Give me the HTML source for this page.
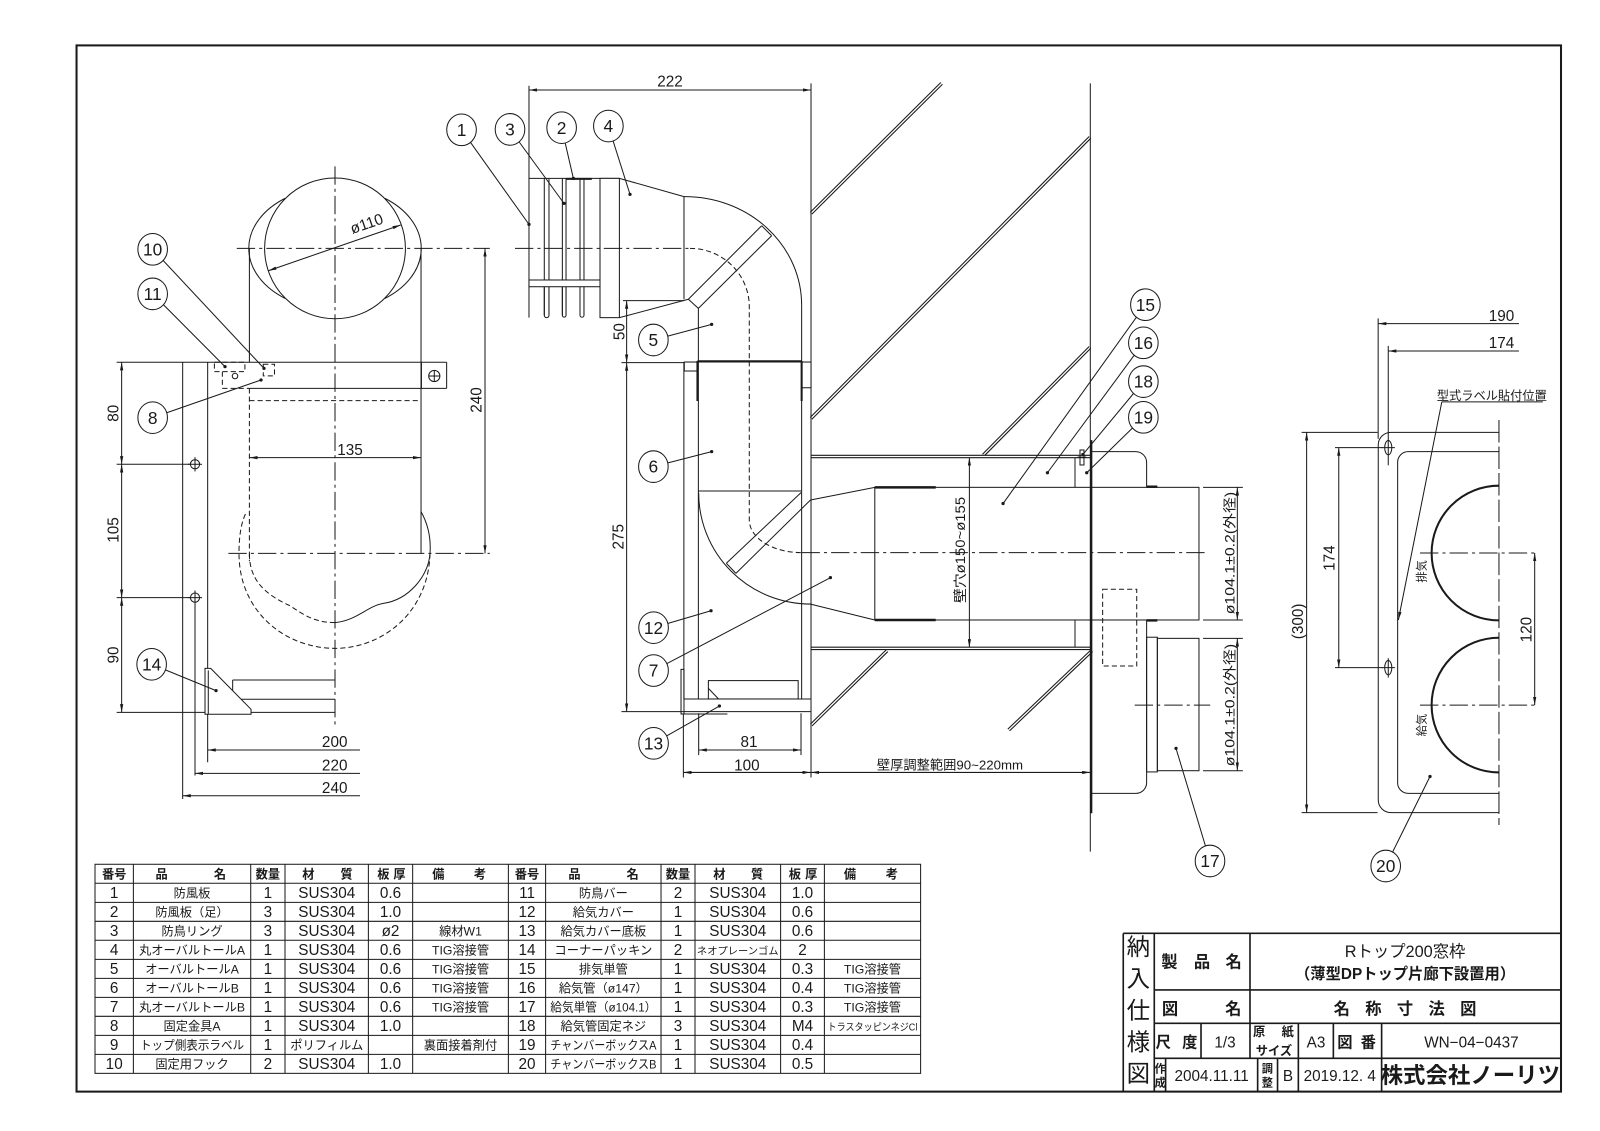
<!DOCTYPE html>
<html><head><meta charset="utf-8"><style>
html,body{margin:0;padding:0;background:#fff}
svg{display:block}
.l{stroke:#1a1a1a;stroke-width:1;fill:none}
.t{stroke:#1a1a1a;stroke-width:2;fill:none}
.d{stroke-dasharray:5 3}
.c{stroke-dasharray:18 4 3 4}
.h1{stroke:#1a1a1a;stroke-width:3.4;fill:none}
.h2{stroke:#fff;stroke-width:1.3;fill:none}
text{font-family:"Liberation Sans","Noto Sans CJK JP",sans-serif;fill:#1a1a1a}
.n{font-size:15px;text-anchor:middle}
.j{font-size:12px;text-anchor:middle}
.lab{font-size:17px;text-anchor:middle}
</style></head><body>
<svg width="1600" height="1131" viewBox="0 0 1568 1108.4" xmlns="http://www.w3.org/2000/svg">
<defs>
<marker id="a" viewBox="0 0 10 4" refX="10" refY="2" markerWidth="8" markerHeight="3.2" orient="auto-start-reverse" markerUnits="userSpaceOnUse"><path d="M0,0 L10,2 L0,4 z" fill="#1a1a1a"/></marker>
</defs>
<rect x="0" y="0" width="1568" height="1108.4" fill="#fff"/>
<!-- border -->
<rect x="75" y="44.5" width="1454.8" height="1025.3" fill="none" stroke="#1a1a1a" stroke-width="2"/>

<!-- ================= LEFT VIEW ================= -->
<g class="l">
<line class="l c" x1="328.3" y1="163" x2="328.3" y2="710.5"/>
<line class="l c" x1="232" y1="243.4" x2="480" y2="243.4"/>
<line class="l c" x1="223.8" y1="542.3" x2="480" y2="542.3"/>
<circle cx="328.3" cy="243.4" r="69"/>
<path d="M279.3 194.4 A84 60 0 0 0 279.3 292.4"/>
<path d="M377.3 194.4 A84 60 0 0 1 377.3 292.4"/>
<line x1="244.4" y1="243.4" x2="244.4" y2="355"/>
<line x1="412.6" y1="243.4" x2="412.6" y2="542.3"/>
<!-- diameter -->
<line x1="263" y1="265.3" x2="392.7" y2="220.5" marker-start="url(#a)" marker-end="url(#a)"/>
<!-- band -->
<line x1="114.3" y1="355" x2="437.7" y2="355"/>
<line x1="244.4" y1="380.6" x2="437.7" y2="380.6"/>
<line class="l d" x1="217.9" y1="380.6" x2="244.4" y2="380.6"/>
<line class="l d" x1="217.9" y1="364.2" x2="217.9" y2="380.6"/>
<rect class="l d" x="210.1" y="355" width="29.9" height="9.2"/>
<circle cx="230.3" cy="368.5" r="2.7"/>
<rect class="l d" x="258" y="357" width="11" height="11.4"/>
<line x1="413" y1="355" x2="413" y2="380.6"/>
<line x1="437.7" y1="355" x2="437.7" y2="380.6"/>
<circle cx="425.6" cy="368.5" r="5.5"/>
<line x1="420.1" y1="368.5" x2="431.1" y2="368.5"/>
<line x1="425.6" y1="363" x2="425.6" y2="374"/>
<line class="l d" x1="244.4" y1="392.6" x2="412.6" y2="392.6"/>
<line class="l d" x1="244.4" y1="380.6" x2="244.4" y2="550"/>
<!-- plate -->
<line x1="179" y1="355" x2="179" y2="783"/>
<line x1="203.5" y1="355" x2="203.5" y2="747"/>
<line x1="191.1" y1="590" x2="191.1" y2="760"/>
<circle cx="191.1" cy="455" r="4.5"/>
<line x1="184" y1="455" x2="198" y2="455"/><line x1="191.1" y1="448" x2="191.1" y2="462"/>
<circle cx="191.1" cy="585.7" r="4.5"/>
<line x1="184" y1="585.7" x2="198" y2="585.7"/><line x1="191.1" y1="578.7" x2="191.1" y2="592.7"/>
<line x1="114.3" y1="455" x2="186" y2="455"/>
<line x1="114.3" y1="585.7" x2="186" y2="585.7"/>
<line x1="114.3" y1="698.1" x2="328.3" y2="698.1"/>
<line x1="119.2" y1="355" x2="119.2" y2="455" marker-start="url(#a)" marker-end="url(#a)"/>
<line x1="119.2" y1="455" x2="119.2" y2="585.7" marker-start="url(#a)" marker-end="url(#a)"/>
<line x1="119.2" y1="585.7" x2="119.2" y2="698.1" marker-start="url(#a)" marker-end="url(#a)"/>
<!-- bracket 14 -->
<path d="M200.9 655 L206.5 655 L246 695.1 L246 700 L200.9 700 Z" fill="#fff"/>
<line x1="204.1" y1="657" x2="204.1" y2="700"/>
<line x1="228" y1="666.4" x2="328.3" y2="666.4"/>
<line x1="228" y1="666.4" x2="228" y2="676.8"/>
<line x1="236.3" y1="685.3" x2="328.3" y2="685.3"/>
<!-- lower elbow outline -->
<path d="M412.6 501.4 Q423 520 421.4 542.3 C420 565 400 588 375.7 591.3 C360 594 350 608 328.3 610.2"/>
<path class="l d" d="M421.4 542.3 C420 600 375 635.4 328.3 635.4 C280 635.4 234.2 600 234.2 542.3 Q234.2 515 241.7 501.4"/>
<path class="l d" d="M328.3 610.2 C305 610 295 600 282.6 592.9 C255 580 244.4 565 244.4 542"/>
<!-- dims -->
<line x1="244.4" y1="448.5" x2="412.6" y2="448.5" marker-start="url(#a)" marker-end="url(#a)"/>
<line x1="475.3" y1="243.4" x2="475.3" y2="542.3" marker-start="url(#a)" marker-end="url(#a)"/>
<line x1="203.5" y1="735" x2="352.8" y2="735" marker-start="url(#a)"/>
<line x1="191.1" y1="757.9" x2="352.8" y2="757.9" marker-start="url(#a)"/>
<line x1="179" y1="779.8" x2="352.8" y2="779.8" marker-start="url(#a)"/>
</g>
<text class="n" transform="translate(361 224) rotate(-19)">ø110</text>
<text class="n" x="343" y="446">135</text>
<text class="n" transform="translate(472 392) rotate(-90)">240</text>
<text class="n" transform="translate(116 405) rotate(-90)">80</text>
<text class="n" transform="translate(116 519.4) rotate(-90)">105</text>
<text class="n" transform="translate(116 641.9) rotate(-90)">90</text>
<text class="n" x="328" y="732">200</text>
<text class="n" x="328" y="755">220</text>
<text class="n" x="328" y="777">240</text>

<!-- ================= CENTER VIEW ================= -->
<!-- hatching -->
<g>
<line class="h1" x1="794.8" y1="209" x2="922.8" y2="81.7"/><line class="h2" x1="794.8" y1="209" x2="922.8" y2="81.7"/>
<line class="h1" x1="794.8" y1="410" x2="1068.2" y2="134.6"/><line class="h2" x1="794.8" y1="410" x2="1068.2" y2="134.6"/>
<line class="h1" x1="963.7" y1="446" x2="1068.2" y2="340.4"/><line class="h2" x1="963.7" y1="446" x2="1068.2" y2="340.4"/>
<line class="h1" x1="795" y1="710.5" x2="869.3" y2="637.7"/><line class="h2" x1="795" y1="710.5" x2="869.3" y2="637.7"/>
<line class="h1" x1="988.5" y1="715.4" x2="1070" y2="637.7"/><line class="h2" x1="988.5" y1="715.4" x2="1070" y2="637.7"/>
<line class="h1" x1="794.8" y1="447.4" x2="1070" y2="447.4"/><line class="h2" x1="794.8" y1="447.4" x2="1070" y2="447.4"/>
<line class="h1" x1="794.8" y1="635.4" x2="1070" y2="635.4"/><line class="h2" x1="794.8" y1="635.4" x2="1070" y2="635.4"/>
</g>
<g class="l">
<!-- walls -->
<line x1="794.8" y1="81.7" x2="794.8" y2="762"/>
<line x1="1068.5" y1="81.7" x2="1068.5" y2="834.6"/>
<line x1="1069.5" y1="431.3" x2="1069.5" y2="797" stroke-width="2"/>
<!-- dim 222 -->
<line x1="518.4" y1="84" x2="518.4" y2="311.3"/>
<line x1="518.4" y1="88.2" x2="794.8" y2="88.2" marker-start="url(#a)" marker-end="url(#a)"/>
<!-- piece 1 / rings -->
<line x1="518.4" y1="174.8" x2="607" y2="174.8"/>
<line x1="555" y1="175.3" x2="580" y2="175.3" stroke-width="2"/>
<path d="M533.4 174.8 V309 A2.3 2.3 0 0 0 538 309 V174.8"/>
<path d="M551.1 174.8 V309 A1.8 1.8 0 0 0 554.7 309 V174.8"/>
<path d="M568.4 174.8 V309 A1.95 1.95 0 0 0 572.3 309 V174.8"/>
<rect x="518.4" y="274.4" width="81.6" height="6.6" fill="#fff"/>
<line x1="533.4" y1="281" x2="533.4" y2="309"/><line x1="538" y1="281" x2="538" y2="309"/>
<line x1="551.1" y1="281" x2="551.1" y2="309"/><line x1="554.7" y1="281" x2="554.7" y2="309"/>
<line x1="568.4" y1="281" x2="568.4" y2="309"/><line x1="572.3" y1="281" x2="572.3" y2="309"/>
<rect x="588" y="174.8" width="19" height="136.5" fill="#fff"/>
<!-- taper 4 -->
<line x1="607" y1="174.8" x2="670.3" y2="192.7"/>
<line x1="607" y1="311.3" x2="674.6" y2="293.3"/>
<!-- elbow 5 -->
<line x1="670.3" y1="192.7" x2="670.3" y2="293.3"/>
<path d="M670.3 192.7 A114.4 106.3 0 0 1 785.6 299"/>
<line x1="785.6" y1="299" x2="785.6" y2="685"/>
<line x1="674.6" y1="293.3" x2="746.4" y2="221.2"/>
<line x1="684.4" y1="302.2" x2="756.2" y2="231"/>
<line x1="746.4" y1="221.2" x2="756.2" y2="231"/>
<line x1="674.6" y1="293.3" x2="684.4" y2="302.2"/>
<line x1="684.4" y1="302.2" x2="684.4" y2="685"/>
<!-- center line -->
<line class="l c" x1="504.7" y1="243.4" x2="676.2" y2="243.4"/>
<path class="l d" d="M676.2 243.4 A58.1 57.1 0 0 1 734.3 300.5 L734.3 509.6 A51.2 32 0 0 0 785.5 541.6"/>
<line class="l c" x1="785.5" y1="541.6" x2="1183" y2="541.6"/>
<!-- dim 50 / 275 -->
<line x1="610.5" y1="294.6" x2="670.3" y2="294.6"/>
<line x1="609" y1="355.4" x2="670.6" y2="355.4"/>
<line x1="614.1" y1="294.6" x2="614.1" y2="355.4" marker-start="url(#a)" marker-end="url(#a)"/>
<line x1="614.1" y1="355.4" x2="614.1" y2="697.4" marker-start="url(#a)" marker-end="url(#a)"/>
<line x1="609" y1="697.4" x2="670" y2="697.4"/>
<!-- cover 6 -->
<line x1="670.6" y1="354.8" x2="794.8" y2="354.8"/>
<rect x="670.6" y="354.8" width="12.6" height="8.8"/>
<line x1="683.5" y1="353.8" x2="683.5" y2="393" stroke-width="2"/>
<line x1="683.5" y1="353.8" x2="785.6" y2="353.8" stroke-width="1.6"/>
<rect x="785.6" y="354.8" width="9.2" height="25.2"/>
<line x1="785.6" y1="353.8" x2="785.6" y2="393" stroke-width="2"/>
<line x1="670.2" y1="354.8" x2="670.2" y2="685"/>
<!-- elbow 7 -->
<line x1="684.4" y1="481.2" x2="785.6" y2="481.2"/>
<path d="M684.7 483 A109.6 109 0 0 0 794.3 592"/>
<line x1="711.8" y1="552" x2="785" y2="482.8"/>
<line x1="721.2" y1="561.9" x2="794.3" y2="490"/>
<line x1="711.8" y1="552" x2="721.2" y2="561.9"/>
<line x1="794.3" y1="490" x2="857.3" y2="477.6"/>
<line x1="794.3" y1="592" x2="857.3" y2="607.6"/>
<!-- pipe 15 -->
<rect x="857.3" y="477.6" width="317.7" height="130" fill="none"/>
<line x1="857.3" y1="477.6" x2="917" y2="477.6" stroke-width="2.4"/>
<line x1="857.3" y1="607.6" x2="917" y2="607.6" stroke-width="2.4"/>
<line x1="1053.5" y1="448.4" x2="1053.5" y2="477.6"/>
<line x1="1053.5" y1="607.6" x2="1053.5" y2="634.4"/>
<rect x="1058.4" y="441" width="3.9" height="14.7"/>
<line x1="1056" y1="448" x2="1064.5" y2="448"/>
<!-- chamber -->
<path d="M1070 442.6 H1113 A10.7 10.7 0 0 1 1123.7 453.3 V477.6"/>
<path d="M1123.7 607.6 V767 A10.5 10.5 0 0 1 1113.2 777.5 H1070"/>
<line x1="1123.7" y1="477" x2="1134.2" y2="477" stroke-width="2.4"/>
<line x1="1123.7" y1="608" x2="1134.2" y2="608" stroke-width="2.4"/>
<rect x="1123.7" y="624.5" width="10.5" height="132"/>
<rect x="1134.2" y="625.6" width="40.8" height="129.7"/>
<rect class="l d" x="1080.6" y="577.5" width="33.4" height="75.2"/>
<line class="l c" x1="1112" y1="691" x2="1186" y2="691"/>
<!-- dims ø104.1 -->
<line x1="1179" y1="477.6" x2="1218" y2="477.6"/>
<line x1="1179" y1="607.6" x2="1218" y2="607.6"/>
<line x1="1179" y1="625.6" x2="1218" y2="625.6"/>
<line x1="1179" y1="755.3" x2="1218" y2="755.3"/>
<line x1="1212.6" y1="477.6" x2="1212.6" y2="607.6" marker-start="url(#a)" marker-end="url(#a)"/>
<line x1="1212.6" y1="625.6" x2="1212.6" y2="755.3" marker-start="url(#a)" marker-end="url(#a)"/>
<line x1="950" y1="448.4" x2="950" y2="634.4" marker-start="url(#a)" marker-end="url(#a)"/>
<!-- base 13 -->
<line x1="670" y1="685" x2="794.3" y2="685"/>
<line x1="670" y1="697.4" x2="794.3" y2="697.4"/>
<rect x="694.2" y="667" width="88" height="18"/>
<line x1="694.2" y1="674.6" x2="704.2" y2="685"/>
<rect x="667.4" y="656" width="2.9" height="43.7"/>
<line x1="667.4" y1="699.7" x2="712.9" y2="699.7"/>
<!-- bottom dims -->
<line x1="684.7" y1="699" x2="684.7" y2="740"/>
<line x1="785" y1="699" x2="785" y2="740"/>
<line x1="684.7" y1="735" x2="785" y2="735" marker-start="url(#a)" marker-end="url(#a)"/>
<line x1="669.7" y1="700" x2="669.7" y2="762"/>
<line x1="669.7" y1="757" x2="794.3" y2="757" marker-start="url(#a)" marker-end="url(#a)"/>
<line x1="794.8" y1="757" x2="1068.5" y2="757" marker-start="url(#a)" marker-end="url(#a)"/>
</g>
<text class="n" x="656.6" y="85">222</text>
<text class="n" transform="translate(612 325) rotate(-90)">50</text>
<text class="n" transform="translate(611 526) rotate(-90)">275</text>
<text class="n" x="734" y="732">81</text>
<text class="n" x="732" y="755">100</text>
<text x="931" y="754" style="font-size:13px;text-anchor:middle">壁厚調整範囲90~220mm</text>
<text transform="translate(945.5 539) rotate(-90)" style="font-size:13.5px;text-anchor:middle" textLength="104" lengthAdjust="spacingAndGlyphs">壁穴ø150~ø155</text>
<text transform="translate(1210 542) rotate(-90)" style="font-size:13.5px;text-anchor:middle" textLength="120" lengthAdjust="spacingAndGlyphs">ø104.1±0.2(外径)</text>
<text transform="translate(1210 691) rotate(-90)" style="font-size:13.5px;text-anchor:middle" textLength="120" lengthAdjust="spacingAndGlyphs">ø104.1±0.2(外径)</text>

<!-- ================= RIGHT VIEW ================= -->
<g class="l">
<line x1="1350.6" y1="312" x2="1350.6" y2="430"/>
<line x1="1360.5" y1="339" x2="1360.5" y2="456"/>
<line x1="1350.6" y1="317.2" x2="1488.6" y2="317.2" marker-start="url(#a)"/>
<line x1="1360.5" y1="344" x2="1488.6" y2="344" marker-start="url(#a)"/>
<path d="M1469 423.7 H1363 A12.4 12.4 0 0 0 1350.7 436 V784 A12.4 12.4 0 0 0 1363 796.4 H1469"/>
<path d="M1469 442.6 H1380 A10.3 10.3 0 0 0 1369.7 452.9 V767.2 A10.3 10.3 0 0 0 1380 777.5 H1469"/>
<line x1="1275.6" y1="423.7" x2="1350" y2="423.7"/>
<line x1="1275.6" y1="796.4" x2="1350" y2="796.4"/>
<line x1="1280.5" y1="423.7" x2="1280.5" y2="796.4" marker-start="url(#a)" marker-end="url(#a)"/>
<line x1="1308.3" y1="438.7" x2="1355" y2="438.7"/>
<line x1="1308.3" y1="654.3" x2="1355" y2="654.3"/>
<line x1="1312" y1="438.7" x2="1312" y2="654.3" marker-start="url(#a)" marker-end="url(#a)"/>
<ellipse cx="1360.5" cy="438.7" rx="3.5" ry="7"/>
<line x1="1354" y1="438.7" x2="1367" y2="438.7"/>
<ellipse cx="1360.5" cy="654.3" rx="3.5" ry="7"/>
<line x1="1354" y1="654.3" x2="1367" y2="654.3"/>
<line x1="1360.5" y1="645" x2="1360.5" y2="664"/>
<line x1="1469" y1="411.6" x2="1469" y2="808.5" stroke-dasharray="22 4"/>
<path d="M1469 476 A66 66 0 0 0 1469 608" stroke-width="2"/>
<path d="M1469 625 A66 66 0 0 0 1469 757" stroke-width="2"/>
<line class="l c" x1="1391.6" y1="542" x2="1507" y2="542"/>
<line class="l c" x1="1391.6" y1="691" x2="1507" y2="691"/>
<line x1="1504" y1="542" x2="1504" y2="691" marker-start="url(#a)" marker-end="url(#a)"/>
<line x1="1413" y1="393.8" x2="1512" y2="393.8"/>
<line x1="1413" y1="393.8" x2="1370.4" y2="607.6" marker-end="url(#a)"/>
</g>
<text class="n" x="1471.5" y="314.5">190</text>
<text class="n" x="1471.5" y="341">174</text>
<text class="n" transform="translate(1277 609) rotate(-90)">(300)</text>
<text class="n" transform="translate(1308 547) rotate(-90)">174</text>
<text class="n" transform="translate(1501 617) rotate(-90)">120</text>
<text x="1462" y="392" style="font-size:12px;text-anchor:middle">型式ラベル貼付位置</text>
<text transform="translate(1397 560) rotate(-90)" style="font-size:11px;text-anchor:middle">排気</text>
<text transform="translate(1397 710.5) rotate(-90)" style="font-size:11px;text-anchor:middle">給気</text>

<!-- ================= LEADERS & LABELS ================= -->
<g class="l">
<line x1="452.3" y1="127.2" x2="518.4" y2="219.9"/>
<line x1="499.8" y1="126.8" x2="552.7" y2="199.3"/>
<line x1="550.4" y1="125.1" x2="561.9" y2="174.8"/>
<line x1="596.2" y1="123.5" x2="617.4" y2="190.5"/>
<line x1="640.3" y1="333.2" x2="697.4" y2="317.9"/>
<line x1="640.3" y1="457.3" x2="697.4" y2="442.6"/>
<line x1="640.5" y1="615.1" x2="696.8" y2="598.5"/>
<line x1="640.5" y1="657.2" x2="813.8" y2="566.1"/>
<line x1="640.5" y1="728.5" x2="705" y2="691.9"/>
<line x1="149.6" y1="244.3" x2="258.7" y2="361"/>
<line x1="149.6" y1="288" x2="220.5" y2="359.3"/>
<line x1="149.6" y1="409.3" x2="255.8" y2="372.4"/>
<line x1="148.6" y1="651" x2="211.7" y2="676.8"/>
<line x1="1122.5" y1="298.6" x2="983" y2="493.5"/>
<line x1="1120.5" y1="336" x2="1026.5" y2="463.3"/>
<line x1="1120.5" y1="374" x2="1061.3" y2="445.4"/>
<line x1="1120.5" y1="409" x2="1065" y2="463.3"/>
<line x1="1185.8" y1="843.8" x2="1152.5" y2="733.4"/>
<line x1="1358" y1="848.7" x2="1401.4" y2="761"/>
</g>
<g fill="#1a1a1a">
<circle cx="518.4" cy="219.9" r="1.6"/><circle cx="552.7" cy="199.3" r="1.6"/><circle cx="561.9" cy="174.8" r="1.6"/><circle cx="617.4" cy="190.5" r="1.6"/>
<circle cx="697.4" cy="317.9" r="1.6"/><circle cx="697.4" cy="442.6" r="1.6"/><circle cx="696.8" cy="598.5" r="1.6"/><circle cx="813.8" cy="566.1" r="1.6"/><circle cx="705" cy="691.9" r="1.6"/>
<circle cx="258.7" cy="361" r="1.6"/><circle cx="220.5" cy="359.3" r="1.6"/><circle cx="255.8" cy="372.4" r="1.6"/><circle cx="211.7" cy="676.8" r="1.6"/>
<circle cx="983" cy="493.5" r="1.6"/><circle cx="1026.5" cy="463.3" r="1.6"/><circle cx="1061.3" cy="445.4" r="1.6"/><circle cx="1065" cy="463.3" r="1.6"/>
<circle cx="1152.5" cy="733.4" r="1.6"/><circle cx="1401.4" cy="761" r="1.6"/>
</g>
<g fill="#fff" stroke="#1a1a1a" stroke-width="1">
<ellipse cx="452.3" cy="127.2" rx="14.5" ry="15.5"/>
<ellipse cx="499.8" cy="126.8" rx="14.5" ry="15.5"/>
<ellipse cx="550.4" cy="125.1" rx="14.5" ry="15.5"/>
<ellipse cx="596.2" cy="123.5" rx="14.5" ry="15.5"/>
<ellipse cx="640.3" cy="333.2" rx="14.5" ry="15.5"/>
<ellipse cx="640.3" cy="457.3" rx="14.5" ry="15.5"/>
<ellipse cx="640.5" cy="615.1" rx="14.5" ry="15.5"/>
<ellipse cx="640.5" cy="657.2" rx="14.5" ry="15.5"/>
<ellipse cx="640.5" cy="728.5" rx="14.5" ry="15.5"/>
<ellipse cx="149.6" cy="244.3" rx="14.5" ry="15.5"/>
<ellipse cx="149.6" cy="288" rx="14.5" ry="15.5"/>
<ellipse cx="149.6" cy="409.3" rx="14.5" ry="15.5"/>
<ellipse cx="148.6" cy="651" rx="14.5" ry="15.5"/>
<ellipse cx="1122.5" cy="298.6" rx="14.5" ry="15.5"/>
<ellipse cx="1120.5" cy="336" rx="14.5" ry="15.5"/>
<ellipse cx="1120.5" cy="374" rx="14.5" ry="15.5"/>
<ellipse cx="1120.5" cy="409" rx="14.5" ry="15.5"/>
<ellipse cx="1185.8" cy="843.8" rx="14.5" ry="15.5"/>
<ellipse cx="1358" cy="848.7" rx="14.5" ry="15.5"/>
</g>
<g class="lab">
<text class="lab" x="452.3" y="133.2">1</text>
<text class="lab" x="499.8" y="132.8">3</text>
<text class="lab" x="550.4" y="131.1">2</text>
<text class="lab" x="596.2" y="129.5">4</text>
<text class="lab" x="640.3" y="339.2">5</text>
<text class="lab" x="640.3" y="463.3">6</text>
<text class="lab" x="640.5" y="621.1">12</text>
<text class="lab" x="640.5" y="663.2">7</text>
<text class="lab" x="640.5" y="734.5">13</text>
<text class="lab" x="149.6" y="250.3">10</text>
<text class="lab" x="149.6" y="294">11</text>
<text class="lab" x="149.6" y="415.3">8</text>
<text class="lab" x="148.6" y="657">14</text>
<text class="lab" x="1122.5" y="304.6">15</text>
<text class="lab" x="1120.5" y="342">16</text>
<text class="lab" x="1120.5" y="380">18</text>
<text class="lab" x="1120.5" y="415">19</text>
<text class="lab" x="1185.8" y="849.8">17</text>
<text class="lab" x="1358" y="854.7">20</text>
</g>

<!-- ================= PARTS TABLE ================= -->
<g class="l">
<rect x="93.1" y="847" width="809.1" height="204.9"/>
<line x1="93.1" y1="865.6" x2="902.2" y2="865.6"/>
<line x1="93.1" y1="884.3" x2="902.2" y2="884.3"/>
<line x1="93.1" y1="902.9" x2="902.2" y2="902.9"/>
<line x1="93.1" y1="921.5" x2="902.2" y2="921.5"/>
<line x1="93.1" y1="940.2" x2="902.2" y2="940.2"/>
<line x1="93.1" y1="958.8" x2="902.2" y2="958.8"/>
<line x1="93.1" y1="977.4" x2="902.2" y2="977.4"/>
<line x1="93.1" y1="996" x2="902.2" y2="996"/>
<line x1="93.1" y1="1014.7" x2="902.2" y2="1014.7"/>
<line x1="93.1" y1="1033.3" x2="902.2" y2="1033.3"/>
<line x1="130.7" y1="847" x2="130.7" y2="1051.9"/>
<line x1="245.7" y1="847" x2="245.7" y2="1051.9"/>
<line x1="279.3" y1="847" x2="279.3" y2="1051.9"/>
<line x1="361" y1="847" x2="361" y2="1051.9"/>
<line x1="404.4" y1="847" x2="404.4" y2="1051.9"/>
<line x1="498.2" y1="847" x2="498.2" y2="1051.9"/>
<line x1="534.7" y1="847" x2="534.7" y2="1051.9"/>
<line x1="647.8" y1="847" x2="647.8" y2="1051.9"/>
<line x1="681.1" y1="847" x2="681.1" y2="1051.9"/>
<line x1="765" y1="847" x2="765" y2="1051.9"/>
<line x1="807.9" y1="847" x2="807.9" y2="1051.9"/>
</g>
<g class="j" style="font-weight:bold">
<text class="j" x="111.9" y="861">番号</text><text class="j" x="158.4" y="861">品</text><text class="j" x="215.6" y="861">名</text>
<text class="j" x="262.5" y="861">数量</text><text class="j" x="302.2" y="861">材</text><text class="j" x="339.7" y="861">質</text>
<text class="j" x="375.7" y="861">板</text><text class="j" x="391.5" y="861">厚</text><text class="j" x="429.6" y="861">備</text><text class="j" x="470.4" y="861">考</text>
<text class="j" x="516.5" y="861">番号</text><text class="j" x="563" y="861">品</text><text class="j" x="620" y="861">名</text>
<text class="j" x="664.5" y="861">数量</text><text class="j" x="705" y="861">材</text><text class="j" x="742" y="861">質</text>
<text class="j" x="779" y="861">板</text><text class="j" x="795" y="861">厚</text><text class="j" x="833" y="861">備</text><text class="j" x="874" y="861">考</text>
</g>
<g>
<!-- left table rows -->
<text class="n" x="111.9" y="880">1</text><text class="j" x="188.2" y="879.5">防風板</text><text class="n" x="262.5" y="880">1</text><text class="n" x="320.2" y="880">SUS304</text><text class="n" x="382.7" y="880">0.6</text>
<text class="n" x="111.9" y="898.6">2</text><text class="j" x="188.2" y="898">防風板（足）</text><text class="n" x="262.5" y="898.6">3</text><text class="n" x="320.2" y="898.6">SUS304</text><text class="n" x="382.7" y="898.6">1.0</text>
<text class="n" x="111.9" y="917.2">3</text><text class="j" x="188.2" y="916.7">防鳥リング</text><text class="n" x="262.5" y="917.2">3</text><text class="n" x="320.2" y="917.2">SUS304</text><text class="n" x="382.7" y="917.2">ø2</text><text class="j" x="451.3" y="916.7">線材W1</text>
<text class="n" x="111.9" y="935.8">4</text><text class="j" x="188.2" y="935.3" textLength="104" lengthAdjust="spacingAndGlyphs">丸オーバルトールA</text><text class="n" x="262.5" y="935.8">1</text><text class="n" x="320.2" y="935.8">SUS304</text><text class="n" x="382.7" y="935.8">0.6</text><text class="j" x="451.3" y="935.3">TIG溶接管</text>
<text class="n" x="111.9" y="954.5">5</text><text class="j" x="188.2" y="954">オーバルトールA</text><text class="n" x="262.5" y="954.5">1</text><text class="n" x="320.2" y="954.5">SUS304</text><text class="n" x="382.7" y="954.5">0.6</text><text class="j" x="451.3" y="954">TIG溶接管</text>
<text class="n" x="111.9" y="973.1">6</text><text class="j" x="188.2" y="972.6">オーバルトールB</text><text class="n" x="262.5" y="973.1">1</text><text class="n" x="320.2" y="973.1">SUS304</text><text class="n" x="382.7" y="973.1">0.6</text><text class="j" x="451.3" y="972.6">TIG溶接管</text>
<text class="n" x="111.9" y="991.7">7</text><text class="j" x="188.2" y="991.2" textLength="104" lengthAdjust="spacingAndGlyphs">丸オーバルトールB</text><text class="n" x="262.5" y="991.7">1</text><text class="n" x="320.2" y="991.7">SUS304</text><text class="n" x="382.7" y="991.7">0.6</text><text class="j" x="451.3" y="991.2">TIG溶接管</text>
<text class="n" x="111.9" y="1010.4">8</text><text class="j" x="188.2" y="1009.9">固定金具A</text><text class="n" x="262.5" y="1010.4">1</text><text class="n" x="320.2" y="1010.4">SUS304</text><text class="n" x="382.7" y="1010.4">1.0</text>
<text class="n" x="111.9" y="1029">9</text><text class="j" x="188.2" y="1028.5" textLength="102" lengthAdjust="spacingAndGlyphs">トップ側表示ラベル</text><text class="n" x="262.5" y="1029">1</text><text class="j" x="320.2" y="1028.5">ポリフィルム</text><text class="j" x="451.3" y="1028.5">裏面接着剤付</text>
<text class="n" x="111.9" y="1047.6">10</text><text class="j" x="188.2" y="1047.1">固定用フック</text><text class="n" x="262.5" y="1047.6">2</text><text class="n" x="320.2" y="1047.6">SUS304</text><text class="n" x="382.7" y="1047.6">1.0</text>
<!-- right table rows -->
<text class="n" x="516.5" y="880">11</text><text class="j" x="591.3" y="879.5">防鳥バー</text><text class="n" x="664.5" y="880">2</text><text class="n" x="723" y="880">SUS304</text><text class="n" x="786.5" y="880">1.0</text>
<text class="n" x="516.5" y="898.6">12</text><text class="j" x="591.3" y="898">給気カバー</text><text class="n" x="664.5" y="898.6">1</text><text class="n" x="723" y="898.6">SUS304</text><text class="n" x="786.5" y="898.6">0.6</text>
<text class="n" x="516.5" y="917.2">13</text><text class="j" x="591.3" y="916.7">給気カバー底板</text><text class="n" x="664.5" y="917.2">1</text><text class="n" x="723" y="917.2">SUS304</text><text class="n" x="786.5" y="917.2">0.6</text>
<text class="n" x="516.5" y="935.8">14</text><text class="j" x="591.3" y="935.3" textLength="96" lengthAdjust="spacingAndGlyphs">コーナーパッキン</text><text class="n" x="664.5" y="935.8">2</text><text x="723" y="935.3" style="font-size:10px;text-anchor:middle" textLength="80" lengthAdjust="spacingAndGlyphs">ネオプレーンゴム</text><text class="n" x="786.5" y="935.8">2</text>
<text class="n" x="516.5" y="954.5">15</text><text class="j" x="591.3" y="954">排気単管</text><text class="n" x="664.5" y="954.5">1</text><text class="n" x="723" y="954.5">SUS304</text><text class="n" x="786.5" y="954.5">0.3</text><text class="j" x="855" y="954">TIG溶接管</text>
<text class="n" x="516.5" y="973.1">16</text><text class="j" x="591.3" y="972.6">給気管（ø147）</text><text class="n" x="664.5" y="973.1">1</text><text class="n" x="723" y="973.1">SUS304</text><text class="n" x="786.5" y="973.1">0.4</text><text class="j" x="855" y="972.6">TIG溶接管</text>
<text class="n" x="516.5" y="991.7">17</text><text class="j" x="591.3" y="991.2" textLength="104" lengthAdjust="spacingAndGlyphs">給気単管（ø104.1）</text><text class="n" x="664.5" y="991.7">1</text><text class="n" x="723" y="991.7">SUS304</text><text class="n" x="786.5" y="991.7">0.3</text><text class="j" x="855" y="991.2">TIG溶接管</text>
<text class="n" x="516.5" y="1010.4">18</text><text class="j" x="591.3" y="1009.9">給気管固定ネジ</text><text class="n" x="664.5" y="1010.4">3</text><text class="n" x="723" y="1010.4">SUS304</text><text class="n" x="786.5" y="1010.4">M4</text><text x="855" y="1009.9" style="font-size:10px;text-anchor:middle" textLength="88" lengthAdjust="spacingAndGlyphs">トラスタッピンネジCl</text>
<text class="n" x="516.5" y="1029">19</text><text class="j" x="591.3" y="1028.5" textLength="104" lengthAdjust="spacingAndGlyphs">チャンバーボックスA</text><text class="n" x="664.5" y="1029">1</text><text class="n" x="723" y="1029">SUS304</text><text class="n" x="786.5" y="1029">0.4</text>
<text class="n" x="516.5" y="1047.6">20</text><text class="j" x="591.3" y="1047.1" textLength="104" lengthAdjust="spacingAndGlyphs">チャンバーボックスB</text><text class="n" x="664.5" y="1047.6">1</text><text class="n" x="723" y="1047.6">SUS304</text><text class="n" x="786.5" y="1047.6">0.5</text>
</g>

<!-- ================= TITLE BLOCK ================= -->
<g stroke="#1a1a1a" stroke-width="1.6" fill="none">
<line x1="1100.8" y1="914.7" x2="1529.8" y2="914.7"/>
<line x1="1100.8" y1="914.7" x2="1100.8" y2="1069.8"/>
<line x1="1131.2" y1="914.7" x2="1131.2" y2="1069.8"/>
<line x1="1131.2" y1="970.2" x2="1529.8" y2="970.2"/>
<line x1="1131.2" y1="1002.9" x2="1529.8" y2="1002.9"/>
<line x1="1131.2" y1="1037.2" x2="1529.8" y2="1037.2"/>
<line x1="1225" y1="914.7" x2="1225" y2="1037.2"/>
<line x1="1177" y1="1002.9" x2="1177" y2="1037.2"/>
<line x1="1272.4" y1="1002.9" x2="1272.4" y2="1069.8"/>
<line x1="1306.7" y1="1002.9" x2="1306.7" y2="1037.2"/>
<line x1="1354" y1="1002.9" x2="1354" y2="1069.8"/>
<line x1="1142.3" y1="1037.2" x2="1142.3" y2="1069.8"/>
<line x1="1232.5" y1="1037.2" x2="1232.5" y2="1069.8"/>
<line x1="1252" y1="1037.2" x2="1252" y2="1069.8"/>
</g>
<g style="text-anchor:middle">
<text x="1115.6" y="936" style="font-size:23px;text-anchor:middle">納</text>
<text x="1115.6" y="967" style="font-size:23px;text-anchor:middle">入</text>
<text x="1115.6" y="998" style="font-size:23px;text-anchor:middle">仕</text>
<text x="1115.6" y="1029" style="font-size:23px;text-anchor:middle">様</text>
<text x="1115.6" y="1060" style="font-size:23px;text-anchor:middle">図</text>
<text x="1146" y="948" style="font-size:16px;text-anchor:middle;font-weight:bold">製</text>
<text x="1178" y="948" style="font-size:16px;text-anchor:middle;font-weight:bold">品</text>
<text x="1209" y="948" style="font-size:16px;text-anchor:middle;font-weight:bold">名</text>
<text x="1377" y="938" style="font-size:16px;text-anchor:middle">Rトップ200窓枠</text>
<text x="1377" y="959.5" style="font-size:15px;text-anchor:middle;font-weight:bold">（薄型DPトップ片廊下設置用）</text>
<text x="1146.6" y="994" style="font-size:16px;text-anchor:middle;font-weight:bold">図</text>
<text x="1208.7" y="994" style="font-size:16px;text-anchor:middle;font-weight:bold">名</text>
<text x="1315" y="994" style="font-size:16px;text-anchor:middle;font-weight:bold">名</text>
<text x="1346" y="994" style="font-size:16px;text-anchor:middle;font-weight:bold">称</text>
<text x="1377" y="994" style="font-size:16px;text-anchor:middle;font-weight:bold">寸</text>
<text x="1408" y="994" style="font-size:16px;text-anchor:middle;font-weight:bold">法</text>
<text x="1439" y="994" style="font-size:16px;text-anchor:middle;font-weight:bold">図</text>
<text x="1140" y="1026.5" style="font-size:15px;text-anchor:middle;font-weight:bold">尺</text>
<text x="1166" y="1026.5" style="font-size:15px;text-anchor:middle;font-weight:bold">度</text>
<text x="1200.5" y="1026.5" style="font-size:15px;text-anchor:middle">1/3</text>
<text x="1234" y="1015.5" style="font-size:12px;text-anchor:middle;font-weight:bold">原</text>
<text x="1262" y="1015.5" style="font-size:12px;text-anchor:middle;font-weight:bold">紙</text>
<text x="1248.5" y="1034" style="font-size:12px;text-anchor:middle;font-weight:bold">サイズ</text>
<text x="1289.7" y="1026.5" style="font-size:15px;text-anchor:middle">A3</text>
<text x="1318" y="1026.5" style="font-size:15px;text-anchor:middle;font-weight:bold">図</text>
<text x="1341" y="1026.5" style="font-size:15px;text-anchor:middle;font-weight:bold">番</text>
<text x="1442" y="1026.5" style="font-size:15px;text-anchor:middle">WN−04−0437</text>
<text x="1137" y="1051" style="font-size:11px;text-anchor:middle;font-weight:bold">作</text>
<text x="1137" y="1065" style="font-size:11px;text-anchor:middle;font-weight:bold">成</text>
<text x="1187.4" y="1059.5" style="font-size:15px;text-anchor:middle">2004.11.11</text>
<text x="1242" y="1051" style="font-size:11px;text-anchor:middle;font-weight:bold">調</text>
<text x="1242" y="1065" style="font-size:11px;text-anchor:middle;font-weight:bold">整</text>
<text x="1262.2" y="1059.5" style="font-size:15px;text-anchor:middle">B</text>
<text x="1313" y="1059.5" style="font-size:15px;text-anchor:middle">2019.12. 4</text>
<text x="1441" y="1061.5" style="font-size:22px;text-anchor:middle;font-weight:bold">株式会社ノーリツ</text>
</g>
</svg>
</body></html>
